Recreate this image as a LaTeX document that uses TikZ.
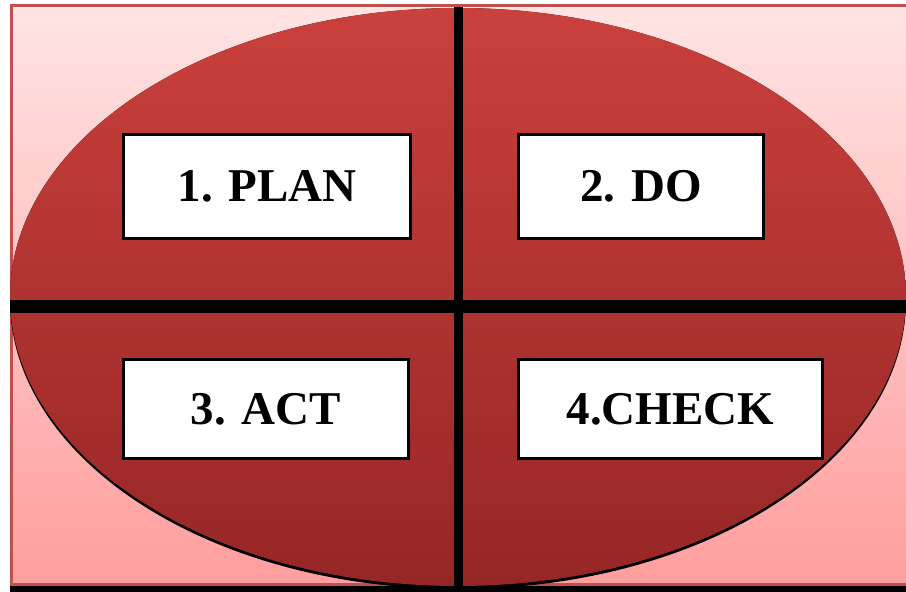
\documentclass[tikz,border=0pt]{standalone}
\usepackage{fontspec}
\setmainfont{Liberation Serif}
\usetikzlibrary{positioning}

\definecolor{framered}{RGB}{192,80,77}
\definecolor{pinktop}{RGB}{255,228,228}
\definecolor{pinkbot}{RGB}{255,158,158}
\definecolor{redtop}{RGB}{202,64,60}
\definecolor{redbot}{RGB}{150,38,38}

\tikzset{
	stage/.style = {draw, line width=3pt, fill=white, inner sep=0pt,
		font=\fontsize{47}{47}\selectfont\bfseries},
	bar/.style = {black, line width=#1}
}

\begin{document}
\begin{tikzpicture}[x=1pt,y=-1pt]
		\useasboundingbox (0,0) rectangle (906,592);
		% frame with its shadow
		\fill[black] (10,12) rectangle (920,592);
		\draw[framered, line width=3pt, top color=pinktop, bottom color=pinkbot] (11.5,5.5) rectangle (918,584.5);
		% the oval, shadow first
		\coordinate (o) at (458,297);
		\fill[black] ([yshift=-3pt]o) ellipse [x radius=448, y radius=289];
		\fill[top color=redtop, bottom color=redbot] (o) ellipse [x radius=448, y radius=289];
		% cross
		\coordinate (t) at (458.5,7);
		\coordinate (b) at (458.5,592);
		\coordinate (l) at (10,306.5);
		\coordinate (r) at (906,306.5);
		\draw[bar=9pt] (t) -- (b);
		\draw[bar=13pt] (l) -- (r);
		% the four steps
		\node[stage, minimum width=287, minimum height=104] (plan) at (267,186.5) {1. PLAN};
		\node[stage, minimum width=245, minimum height=104] (do) at (641,186.5) {2. DO};
		\node[stage, minimum width=285, minimum height=99] (act) at (266,409) {3. ACT};
		\node[stage, minimum width=304, minimum height=99] (check) at (670.5,409) {4.CHECK};
	\end{tikzpicture}
\end{document}
